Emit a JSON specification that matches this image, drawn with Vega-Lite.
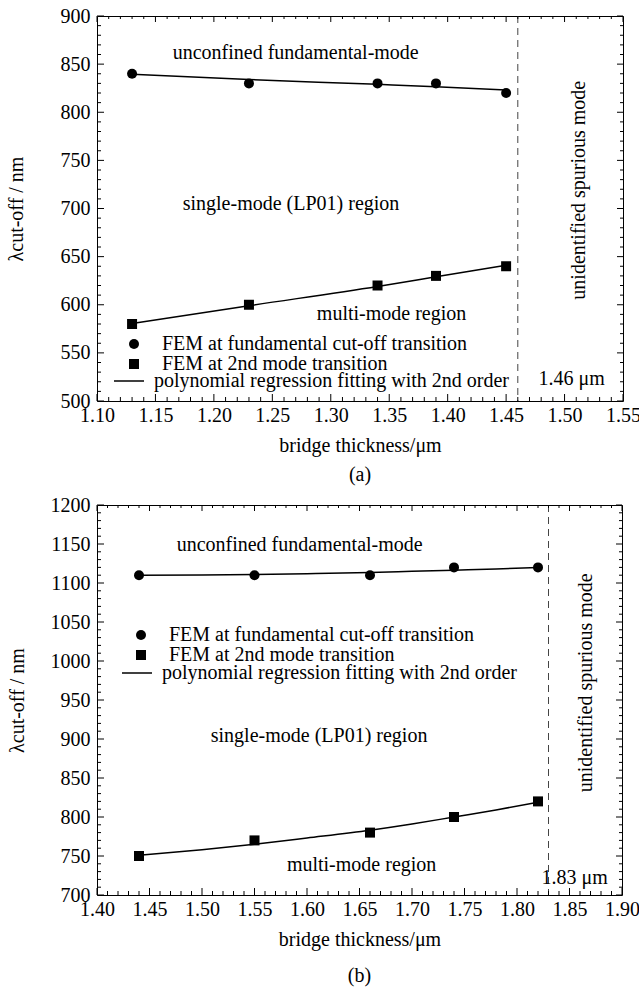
{
  "$schema": "https://vega.github.io/schema/vega-lite/v6.json",
  "padding": 5,
  "spacing": 8,
  "resolve": {"scale": {"shape": "independent", "color": "independent"}, "legend": {"shape": "independent", "color": "independent"}},
  "config": {
    "font": "Liberation Serif",
    "view": {"stroke": "black", "strokeWidth": 1},
    "axis": {"domain": false, "ticks": false, "grid": false, "labelColor": "black", "labelFont": "Liberation Serif", "labelFontSize": 20, "titleFont": "Liberation Serif", "titleFontSize": 20, "titleFontWeight": "normal", "titleColor": "black", "labelFlush": false, "labelOverlap": false},
    "title": {"font": "Liberation Serif", "fontSize": 20, "fontWeight": "normal", "color": "black"},
    "legend": {"labelFont": "Liberation Serif", "labelFontSize": 20, "labelColor": "black", "labelLimit": 0, "padding": 0, "rowPadding": -3, "orient": "none", "title": null}
  },
  "datasets": {
    "xt_a": [
      {"v":1.10,"major":true},{"v":1.11,"major":false},{"v":1.12,"major":false},{"v":1.13,"major":false},{"v":1.14,"major":false},
      {"v":1.15,"major":true},{"v":1.16,"major":false},{"v":1.17,"major":false},{"v":1.18,"major":false},{"v":1.19,"major":false},
      {"v":1.20,"major":true},{"v":1.21,"major":false},{"v":1.22,"major":false},{"v":1.23,"major":false},{"v":1.24,"major":false},
      {"v":1.25,"major":true},{"v":1.26,"major":false},{"v":1.27,"major":false},{"v":1.28,"major":false},{"v":1.29,"major":false},
      {"v":1.30,"major":true},{"v":1.31,"major":false},{"v":1.32,"major":false},{"v":1.33,"major":false},{"v":1.34,"major":false},
      {"v":1.35,"major":true},{"v":1.36,"major":false},{"v":1.37,"major":false},{"v":1.38,"major":false},{"v":1.39,"major":false},
      {"v":1.40,"major":true},{"v":1.41,"major":false},{"v":1.42,"major":false},{"v":1.43,"major":false},{"v":1.44,"major":false},
      {"v":1.45,"major":true},{"v":1.46,"major":false},{"v":1.47,"major":false},{"v":1.48,"major":false},{"v":1.49,"major":false},
      {"v":1.50,"major":true},{"v":1.51,"major":false},{"v":1.52,"major":false},{"v":1.53,"major":false},{"v":1.54,"major":false},
      {"v":1.55,"major":true}
    ],
    "yt_a": [
      {"v":500,"major":true},{"v":510,"major":false},{"v":520,"major":false},{"v":530,"major":false},{"v":540,"major":false},
      {"v":550,"major":true},{"v":560,"major":false},{"v":570,"major":false},{"v":580,"major":false},{"v":590,"major":false},
      {"v":600,"major":true},{"v":610,"major":false},{"v":620,"major":false},{"v":630,"major":false},{"v":640,"major":false},
      {"v":650,"major":true},{"v":660,"major":false},{"v":670,"major":false},{"v":680,"major":false},{"v":690,"major":false},
      {"v":700,"major":true},{"v":710,"major":false},{"v":720,"major":false},{"v":730,"major":false},{"v":740,"major":false},
      {"v":750,"major":true},{"v":760,"major":false},{"v":770,"major":false},{"v":780,"major":false},{"v":790,"major":false},
      {"v":800,"major":true},{"v":810,"major":false},{"v":820,"major":false},{"v":830,"major":false},{"v":840,"major":false},
      {"v":850,"major":true},{"v":860,"major":false},{"v":870,"major":false},{"v":880,"major":false},{"v":890,"major":false},
      {"v":900,"major":true}
    ],
    "xt_b": [
      {"v":1.40,"major":true},{"v":1.41,"major":false},{"v":1.42,"major":false},{"v":1.43,"major":false},{"v":1.44,"major":false},
      {"v":1.45,"major":true},{"v":1.46,"major":false},{"v":1.47,"major":false},{"v":1.48,"major":false},{"v":1.49,"major":false},
      {"v":1.50,"major":true},{"v":1.51,"major":false},{"v":1.52,"major":false},{"v":1.53,"major":false},{"v":1.54,"major":false},
      {"v":1.55,"major":true},{"v":1.56,"major":false},{"v":1.57,"major":false},{"v":1.58,"major":false},{"v":1.59,"major":false},
      {"v":1.60,"major":true},{"v":1.61,"major":false},{"v":1.62,"major":false},{"v":1.63,"major":false},{"v":1.64,"major":false},
      {"v":1.65,"major":true},{"v":1.66,"major":false},{"v":1.67,"major":false},{"v":1.68,"major":false},{"v":1.69,"major":false},
      {"v":1.70,"major":true},{"v":1.71,"major":false},{"v":1.72,"major":false},{"v":1.73,"major":false},{"v":1.74,"major":false},
      {"v":1.75,"major":true},{"v":1.76,"major":false},{"v":1.77,"major":false},{"v":1.78,"major":false},{"v":1.79,"major":false},
      {"v":1.80,"major":true},{"v":1.81,"major":false},{"v":1.82,"major":false},{"v":1.83,"major":false},{"v":1.84,"major":false},
      {"v":1.85,"major":true},{"v":1.86,"major":false},{"v":1.87,"major":false},{"v":1.88,"major":false},{"v":1.89,"major":false},
      {"v":1.90,"major":true}
    ],
    "yt_b": [
      {"v":700,"major":true},{"v":710,"major":false},{"v":720,"major":false},{"v":730,"major":false},{"v":740,"major":false},
      {"v":750,"major":true},{"v":760,"major":false},{"v":770,"major":false},{"v":780,"major":false},{"v":790,"major":false},
      {"v":800,"major":true},{"v":810,"major":false},{"v":820,"major":false},{"v":830,"major":false},{"v":840,"major":false},
      {"v":850,"major":true},{"v":860,"major":false},{"v":870,"major":false},{"v":880,"major":false},{"v":890,"major":false},
      {"v":900,"major":true},{"v":910,"major":false},{"v":920,"major":false},{"v":930,"major":false},{"v":940,"major":false},
      {"v":950,"major":true},{"v":960,"major":false},{"v":970,"major":false},{"v":980,"major":false},{"v":990,"major":false},
      {"v":1000,"major":true},{"v":1010,"major":false},{"v":1020,"major":false},{"v":1030,"major":false},{"v":1040,"major":false},
      {"v":1050,"major":true},{"v":1060,"major":false},{"v":1070,"major":false},{"v":1080,"major":false},{"v":1090,"major":false},
      {"v":1100,"major":true},{"v":1110,"major":false},{"v":1120,"major":false},{"v":1130,"major":false},{"v":1140,"major":false},
      {"v":1150,"major":true},{"v":1160,"major":false},{"v":1170,"major":false},{"v":1180,"major":false},{"v":1190,"major":false},
      {"v":1200,"major":true}
    ]
  },
  "vconcat": [
    {
      "width": 526,
      "height": 385,
      "title": {"text": "(a)", "orient": "bottom", "offset": 10},
      "resolve": {"axis": {"x": "independent", "y": "independent"}},
      "layer": [
        {
          "data": {"values": [
            {"thickness": 1.13, "lambda": 840, "series": "FEM at fundamental cut-off transition"},
            {"thickness": 1.23, "lambda": 830, "series": "FEM at fundamental cut-off transition"},
            {"thickness": 1.34, "lambda": 830, "series": "FEM at fundamental cut-off transition"},
            {"thickness": 1.39, "lambda": 830, "series": "FEM at fundamental cut-off transition"},
            {"thickness": 1.45, "lambda": 820, "series": "FEM at fundamental cut-off transition"},
            {"thickness": 1.13, "lambda": 580, "series": "FEM at 2nd mode transition"},
            {"thickness": 1.23, "lambda": 600, "series": "FEM at 2nd mode transition"},
            {"thickness": 1.34, "lambda": 620, "series": "FEM at 2nd mode transition"},
            {"thickness": 1.39, "lambda": 630, "series": "FEM at 2nd mode transition"},
            {"thickness": 1.45, "lambda": 640, "series": "FEM at 2nd mode transition"}
          ]},
          "mark": {"type": "point", "filled": true, "color": "black", "opacity": 1, "size": 100},
          "encoding": {
            "x": {"field": "thickness", "type": "quantitative", "scale": {"domain": [1.10, 1.55], "nice": false, "zero": false},
                  "axis": {"orient": "bottom", "tickCount": 9, "format": ".2f", "labelPadding": 4, "title": "bridge thickness/μm", "titlePadding": 10}},
            "y": {"field": "lambda", "type": "quantitative", "scale": {"domain": [500, 900], "nice": false, "zero": false},
                  "axis": {"orient": "left", "tickCount": 8, "format": "d", "labelPadding": 7, "title": "λcut-off / nm", "titlePadding": 34}},
            "shape": {"field": "series", "type": "nominal",
                      "scale": {"domain": ["FEM at fundamental cut-off transition", "FEM at 2nd mode transition"], "range": ["circle", "square"]},
                      "legend": {"legendX": 27, "legendY": 318, "symbolSize": 100, "labelOffset": 18, "symbolFillColor": "black"}}
          }
        },
        {
          "data": {"values": [
            {"thickness": 1.13, "lambda": 839.5, "curve": "upper", "fit": "polynomial regression fitting with 2nd order"},
            {"thickness": 1.23, "lambda": 834, "curve": "upper", "fit": "polynomial regression fitting with 2nd order"},
            {"thickness": 1.34, "lambda": 829, "curve": "upper", "fit": "polynomial regression fitting with 2nd order"},
            {"thickness": 1.39, "lambda": 826.5, "curve": "upper", "fit": "polynomial regression fitting with 2nd order"},
            {"thickness": 1.45, "lambda": 823, "curve": "upper", "fit": "polynomial regression fitting with 2nd order"},
            {"thickness": 1.13, "lambda": 580.5, "curve": "lower", "fit": "polynomial regression fitting with 2nd order"},
            {"thickness": 1.23, "lambda": 599, "curve": "lower", "fit": "polynomial regression fitting with 2nd order"},
            {"thickness": 1.34, "lambda": 619, "curve": "lower", "fit": "polynomial regression fitting with 2nd order"},
            {"thickness": 1.39, "lambda": 629, "curve": "lower", "fit": "polynomial regression fitting with 2nd order"},
            {"thickness": 1.45, "lambda": 641, "curve": "lower", "fit": "polynomial regression fitting with 2nd order"}
          ]},
          "mark": {"type": "line", "strokeWidth": 1.5, "interpolate": "monotone"},
          "encoding": {
            "x": {"field": "thickness", "type": "quantitative", "scale": {"domain": [1.10, 1.55], "nice": false, "zero": false}, "axis": null},
            "y": {"field": "lambda", "type": "quantitative", "scale": {"domain": [500, 900], "nice": false, "zero": false}, "axis": null},
            "detail": {"field": "curve", "type": "nominal"},
            "color": {"field": "fit", "type": "nominal", "scale": {"range": ["black"]},
                      "legend": {"legendX": 16, "legendY": 349, "symbolType": "stroke", "symbolSize": 900, "symbolStrokeWidth": 1.5, "labelOffset": 9}}
          }
        },
        {
          "data": {"values": [{"thickness": 1.46}]},
          "mark": {"type": "rule", "color": "#444", "strokeWidth": 1, "strokeDash": [7, 5]},
          "encoding": {
            "x": {"field": "thickness", "type": "quantitative", "scale": {"domain": [1.10, 1.55], "nice": false, "zero": false}, "axis": null}
          }
        },
        {
          "data": {"values": [
            {"thickness": 1.27, "lambda": 862, "label": "unconfined fundamental-mode"},
            {"thickness": 1.266, "lambda": 705, "label": "single-mode (LP01) region"},
            {"thickness": 1.352, "lambda": 590, "label": "multi-mode region"},
            {"thickness": 1.506, "lambda": 523, "label": "1.46 μm"}
          ]},
          "mark": {"type": "text", "fontSize": 20, "font": "Liberation Serif", "color": "black"},
          "encoding": {
            "x": {"field": "thickness", "type": "quantitative", "scale": {"domain": [1.10, 1.55], "nice": false, "zero": false}, "axis": null},
            "y": {"field": "lambda", "type": "quantitative", "scale": {"domain": [500, 900], "nice": false, "zero": false}, "axis": null},
            "text": {"field": "label"}
          }
        },
        {
          "data": {"values": [
            {"thickness": 1.512, "lambda": 719, "label": "unidentified spurious mode"}
          ]},
          "mark": {"type": "text", "fontSize": 20, "font": "Liberation Serif", "color": "black", "angle": 270},
          "encoding": {
            "x": {"field": "thickness", "type": "quantitative", "scale": {"domain": [1.10, 1.55], "nice": false, "zero": false}, "axis": null},
            "y": {"field": "lambda", "type": "quantitative", "scale": {"domain": [500, 900], "nice": false, "zero": false}, "axis": null},
            "text": {"field": "label"}
          }
        },
        {
          "data": {"name": "xt_a"}, "transform": [{"filter": "datum.major"}],
          "mark": {"type": "rule", "color": "black", "strokeWidth": 1, "y2Offset": -7},
          "encoding": {
            "x": {"field": "v", "type": "quantitative", "scale": {"domain": [1.10, 1.55], "nice": false, "zero": false}, "axis": null},
            "y": {"datum": 500, "type": "quantitative", "scale": {"domain": [500, 900], "nice": false, "zero": false}, "axis": null},
            "y2": {"datum": 500}
          }
        },
        {
          "data": {"name": "xt_a"}, "transform": [{"filter": "!datum.major"}],
          "mark": {"type": "rule", "color": "black", "strokeWidth": 1, "y2Offset": -4},
          "encoding": {
            "x": {"field": "v", "type": "quantitative", "scale": {"domain": [1.10, 1.55], "nice": false, "zero": false}, "axis": null},
            "y": {"datum": 500, "type": "quantitative", "scale": {"domain": [500, 900], "nice": false, "zero": false}, "axis": null},
            "y2": {"datum": 500}
          }
        },
        {
          "data": {"name": "xt_a"}, "transform": [{"filter": "datum.major"}],
          "mark": {"type": "rule", "color": "black", "strokeWidth": 1, "y2Offset": 6},
          "encoding": {
            "x": {"field": "v", "type": "quantitative", "scale": {"domain": [1.10, 1.55], "nice": false, "zero": false}, "axis": null},
            "y": {"datum": 900, "type": "quantitative", "scale": {"domain": [500, 900], "nice": false, "zero": false}, "axis": null},
            "y2": {"datum": 900}
          }
        },
        {
          "data": {"name": "xt_a"}, "transform": [{"filter": "!datum.major"}],
          "mark": {"type": "rule", "color": "black", "strokeWidth": 1, "y2Offset": 3},
          "encoding": {
            "x": {"field": "v", "type": "quantitative", "scale": {"domain": [1.10, 1.55], "nice": false, "zero": false}, "axis": null},
            "y": {"datum": 900, "type": "quantitative", "scale": {"domain": [500, 900], "nice": false, "zero": false}, "axis": null},
            "y2": {"datum": 900}
          }
        },
        {
          "data": {"name": "yt_a"}, "transform": [{"filter": "datum.major"}],
          "mark": {"type": "rule", "color": "black", "strokeWidth": 1, "x2Offset": 7},
          "encoding": {
            "y": {"field": "v", "type": "quantitative", "scale": {"domain": [500, 900], "nice": false, "zero": false}, "axis": null},
            "x": {"datum": 1.10, "type": "quantitative", "scale": {"domain": [1.10, 1.55], "nice": false, "zero": false}, "axis": null},
            "x2": {"datum": 1.10}
          }
        },
        {
          "data": {"name": "yt_a"}, "transform": [{"filter": "!datum.major"}],
          "mark": {"type": "rule", "color": "black", "strokeWidth": 1, "x2Offset": 4},
          "encoding": {
            "y": {"field": "v", "type": "quantitative", "scale": {"domain": [500, 900], "nice": false, "zero": false}, "axis": null},
            "x": {"datum": 1.10, "type": "quantitative", "scale": {"domain": [1.10, 1.55], "nice": false, "zero": false}, "axis": null},
            "x2": {"datum": 1.10}
          }
        },
        {
          "data": {"name": "yt_a"}, "transform": [{"filter": "datum.major"}],
          "mark": {"type": "rule", "color": "black", "strokeWidth": 1, "x2Offset": -6},
          "encoding": {
            "y": {"field": "v", "type": "quantitative", "scale": {"domain": [500, 900], "nice": false, "zero": false}, "axis": null},
            "x": {"datum": 1.55, "type": "quantitative", "scale": {"domain": [1.10, 1.55], "nice": false, "zero": false}, "axis": null},
            "x2": {"datum": 1.55}
          }
        },
        {
          "data": {"name": "yt_a"}, "transform": [{"filter": "!datum.major"}],
          "mark": {"type": "rule", "color": "black", "strokeWidth": 1, "x2Offset": -3},
          "encoding": {
            "y": {"field": "v", "type": "quantitative", "scale": {"domain": [500, 900], "nice": false, "zero": false}, "axis": null},
            "x": {"datum": 1.55, "type": "quantitative", "scale": {"domain": [1.10, 1.55], "nice": false, "zero": false}, "axis": null},
            "x2": {"datum": 1.55}
          }
        }
      ]
    },
    {
      "width": 525,
      "height": 390,
      "title": {"text": "(b)", "orient": "bottom", "offset": 17},
      "resolve": {"axis": {"x": "independent", "y": "independent"}},
      "layer": [
        {
          "data": {"values": [
            {"thickness": 1.44, "lambda": 1110, "series": "FEM at fundamental cut-off transition"},
            {"thickness": 1.55, "lambda": 1110, "series": "FEM at fundamental cut-off transition"},
            {"thickness": 1.66, "lambda": 1110, "series": "FEM at fundamental cut-off transition"},
            {"thickness": 1.74, "lambda": 1120, "series": "FEM at fundamental cut-off transition"},
            {"thickness": 1.82, "lambda": 1120, "series": "FEM at fundamental cut-off transition"},
            {"thickness": 1.44, "lambda": 750, "series": "FEM at 2nd mode transition"},
            {"thickness": 1.55, "lambda": 770, "series": "FEM at 2nd mode transition"},
            {"thickness": 1.66, "lambda": 780, "series": "FEM at 2nd mode transition"},
            {"thickness": 1.74, "lambda": 800, "series": "FEM at 2nd mode transition"},
            {"thickness": 1.82, "lambda": 820, "series": "FEM at 2nd mode transition"}
          ]},
          "mark": {"type": "point", "filled": true, "color": "black", "opacity": 1, "size": 100},
          "encoding": {
            "x": {"field": "thickness", "type": "quantitative", "scale": {"domain": [1.40, 1.90], "nice": false, "zero": false},
                  "axis": {"orient": "bottom", "tickCount": 10, "format": ".2f", "labelPadding": 4, "title": "bridge thickness/μm", "titlePadding": 10}},
            "y": {"field": "lambda", "type": "quantitative", "scale": {"domain": [700, 1200], "nice": false, "zero": false},
                  "axis": {"orient": "left", "tickCount": 10, "format": "d", "labelPadding": 7, "title": "λcut-off / nm", "titlePadding": 23}},
            "shape": {"field": "series", "type": "nominal",
                      "scale": {"domain": ["FEM at fundamental cut-off transition", "FEM at 2nd mode transition"], "range": ["circle", "square"]},
                      "legend": {"legendX": 34, "legendY": 120, "symbolSize": 100, "labelOffset": 18, "symbolFillColor": "black"}}
          }
        },
        {
          "data": {"values": [
            {"thickness": 1.44, "lambda": 1110, "curve": "upper", "fit": "polynomial regression fitting with 2nd order"},
            {"thickness": 1.50, "lambda": 1110.3, "curve": "upper", "fit": "polynomial regression fitting with 2nd order"},
            {"thickness": 1.55, "lambda": 1111, "curve": "upper", "fit": "polynomial regression fitting with 2nd order"},
            {"thickness": 1.60, "lambda": 1112, "curve": "upper", "fit": "polynomial regression fitting with 2nd order"},
            {"thickness": 1.66, "lambda": 1113.5, "curve": "upper", "fit": "polynomial regression fitting with 2nd order"},
            {"thickness": 1.70, "lambda": 1115, "curve": "upper", "fit": "polynomial regression fitting with 2nd order"},
            {"thickness": 1.74, "lambda": 1116.5, "curve": "upper", "fit": "polynomial regression fitting with 2nd order"},
            {"thickness": 1.78, "lambda": 1118, "curve": "upper", "fit": "polynomial regression fitting with 2nd order"},
            {"thickness": 1.82, "lambda": 1120, "curve": "upper", "fit": "polynomial regression fitting with 2nd order"},
            {"thickness": 1.44, "lambda": 751, "curve": "lower", "fit": "polynomial regression fitting with 2nd order"},
            {"thickness": 1.50, "lambda": 758, "curve": "lower", "fit": "polynomial regression fitting with 2nd order"},
            {"thickness": 1.55, "lambda": 765, "curve": "lower", "fit": "polynomial regression fitting with 2nd order"},
            {"thickness": 1.60, "lambda": 773, "curve": "lower", "fit": "polynomial regression fitting with 2nd order"},
            {"thickness": 1.66, "lambda": 783, "curve": "lower", "fit": "polynomial regression fitting with 2nd order"},
            {"thickness": 1.70, "lambda": 791, "curve": "lower", "fit": "polynomial regression fitting with 2nd order"},
            {"thickness": 1.74, "lambda": 800, "curve": "lower", "fit": "polynomial regression fitting with 2nd order"},
            {"thickness": 1.78, "lambda": 809, "curve": "lower", "fit": "polynomial regression fitting with 2nd order"},
            {"thickness": 1.82, "lambda": 819, "curve": "lower", "fit": "polynomial regression fitting with 2nd order"}
          ]},
          "mark": {"type": "line", "strokeWidth": 1.5, "interpolate": "monotone"},
          "encoding": {
            "x": {"field": "thickness", "type": "quantitative", "scale": {"domain": [1.40, 1.90], "nice": false, "zero": false}, "axis": null},
            "y": {"field": "lambda", "type": "quantitative", "scale": {"domain": [700, 1200], "nice": false, "zero": false}, "axis": null},
            "detail": {"field": "curve", "type": "nominal"},
            "color": {"field": "fit", "type": "nominal", "scale": {"range": ["black"]},
                      "legend": {"legendX": 24, "legendY": 152, "symbolType": "stroke", "symbolSize": 900, "symbolStrokeWidth": 1.5, "labelOffset": 9}}
          }
        },
        {
          "data": {"values": [{"thickness": 1.83}]},
          "mark": {"type": "rule", "color": "#444", "strokeWidth": 1, "strokeDash": [7, 5]},
          "encoding": {
            "x": {"field": "thickness", "type": "quantitative", "scale": {"domain": [1.40, 1.90], "nice": false, "zero": false}, "axis": null}
          }
        },
        {
          "data": {"values": [
            {"thickness": 1.593, "lambda": 1149, "label": "unconfined fundamental-mode"},
            {"thickness": 1.6115, "lambda": 904, "label": "single-mode (LP01) region"},
            {"thickness": 1.652, "lambda": 738.5, "label": "multi-mode region"},
            {"thickness": 1.855, "lambda": 722, "label": "1.83 μm"}
          ]},
          "mark": {"type": "text", "fontSize": 20, "font": "Liberation Serif", "color": "black"},
          "encoding": {
            "x": {"field": "thickness", "type": "quantitative", "scale": {"domain": [1.40, 1.90], "nice": false, "zero": false}, "axis": null},
            "y": {"field": "lambda", "type": "quantitative", "scale": {"domain": [700, 1200], "nice": false, "zero": false}, "axis": null},
            "text": {"field": "label"}
          }
        },
        {
          "data": {"values": [
            {"thickness": 1.866, "lambda": 972, "label": "unidentified spurious mode"}
          ]},
          "mark": {"type": "text", "fontSize": 20, "font": "Liberation Serif", "color": "black", "angle": 270},
          "encoding": {
            "x": {"field": "thickness", "type": "quantitative", "scale": {"domain": [1.40, 1.90], "nice": false, "zero": false}, "axis": null},
            "y": {"field": "lambda", "type": "quantitative", "scale": {"domain": [700, 1200], "nice": false, "zero": false}, "axis": null},
            "text": {"field": "label"}
          }
        },
        {
          "data": {"name": "xt_b"}, "transform": [{"filter": "datum.major"}],
          "mark": {"type": "rule", "color": "black", "strokeWidth": 1, "y2Offset": -7},
          "encoding": {
            "x": {"field": "v", "type": "quantitative", "scale": {"domain": [1.40, 1.90], "nice": false, "zero": false}, "axis": null},
            "y": {"datum": 700, "type": "quantitative", "scale": {"domain": [700, 1200], "nice": false, "zero": false}, "axis": null},
            "y2": {"datum": 700}
          }
        },
        {
          "data": {"name": "xt_b"}, "transform": [{"filter": "!datum.major"}],
          "mark": {"type": "rule", "color": "black", "strokeWidth": 1, "y2Offset": -4},
          "encoding": {
            "x": {"field": "v", "type": "quantitative", "scale": {"domain": [1.40, 1.90], "nice": false, "zero": false}, "axis": null},
            "y": {"datum": 700, "type": "quantitative", "scale": {"domain": [700, 1200], "nice": false, "zero": false}, "axis": null},
            "y2": {"datum": 700}
          }
        },
        {
          "data": {"name": "xt_b"}, "transform": [{"filter": "datum.major"}],
          "mark": {"type": "rule", "color": "black", "strokeWidth": 1, "y2Offset": 6},
          "encoding": {
            "x": {"field": "v", "type": "quantitative", "scale": {"domain": [1.40, 1.90], "nice": false, "zero": false}, "axis": null},
            "y": {"datum": 1200, "type": "quantitative", "scale": {"domain": [700, 1200], "nice": false, "zero": false}, "axis": null},
            "y2": {"datum": 1200}
          }
        },
        {
          "data": {"name": "xt_b"}, "transform": [{"filter": "!datum.major"}],
          "mark": {"type": "rule", "color": "black", "strokeWidth": 1, "y2Offset": 3},
          "encoding": {
            "x": {"field": "v", "type": "quantitative", "scale": {"domain": [1.40, 1.90], "nice": false, "zero": false}, "axis": null},
            "y": {"datum": 1200, "type": "quantitative", "scale": {"domain": [700, 1200], "nice": false, "zero": false}, "axis": null},
            "y2": {"datum": 1200}
          }
        },
        {
          "data": {"name": "yt_b"}, "transform": [{"filter": "datum.major"}],
          "mark": {"type": "rule", "color": "black", "strokeWidth": 1, "x2Offset": 7},
          "encoding": {
            "y": {"field": "v", "type": "quantitative", "scale": {"domain": [700, 1200], "nice": false, "zero": false}, "axis": null},
            "x": {"datum": 1.40, "type": "quantitative", "scale": {"domain": [1.40, 1.90], "nice": false, "zero": false}, "axis": null},
            "x2": {"datum": 1.40}
          }
        },
        {
          "data": {"name": "yt_b"}, "transform": [{"filter": "!datum.major"}],
          "mark": {"type": "rule", "color": "black", "strokeWidth": 1, "x2Offset": 4},
          "encoding": {
            "y": {"field": "v", "type": "quantitative", "scale": {"domain": [700, 1200], "nice": false, "zero": false}, "axis": null},
            "x": {"datum": 1.40, "type": "quantitative", "scale": {"domain": [1.40, 1.90], "nice": false, "zero": false}, "axis": null},
            "x2": {"datum": 1.40}
          }
        },
        {
          "data": {"name": "yt_b"}, "transform": [{"filter": "datum.major"}],
          "mark": {"type": "rule", "color": "black", "strokeWidth": 1, "x2Offset": -6},
          "encoding": {
            "y": {"field": "v", "type": "quantitative", "scale": {"domain": [700, 1200], "nice": false, "zero": false}, "axis": null},
            "x": {"datum": 1.90, "type": "quantitative", "scale": {"domain": [1.40, 1.90], "nice": false, "zero": false}, "axis": null},
            "x2": {"datum": 1.90}
          }
        },
        {
          "data": {"name": "yt_b"}, "transform": [{"filter": "!datum.major"}],
          "mark": {"type": "rule", "color": "black", "strokeWidth": 1, "x2Offset": -3},
          "encoding": {
            "y": {"field": "v", "type": "quantitative", "scale": {"domain": [700, 1200], "nice": false, "zero": false}, "axis": null},
            "x": {"datum": 1.90, "type": "quantitative", "scale": {"domain": [1.40, 1.90], "nice": false, "zero": false}, "axis": null},
            "x2": {"datum": 1.90}
          }
        }
      ]
    }
  ]
}
